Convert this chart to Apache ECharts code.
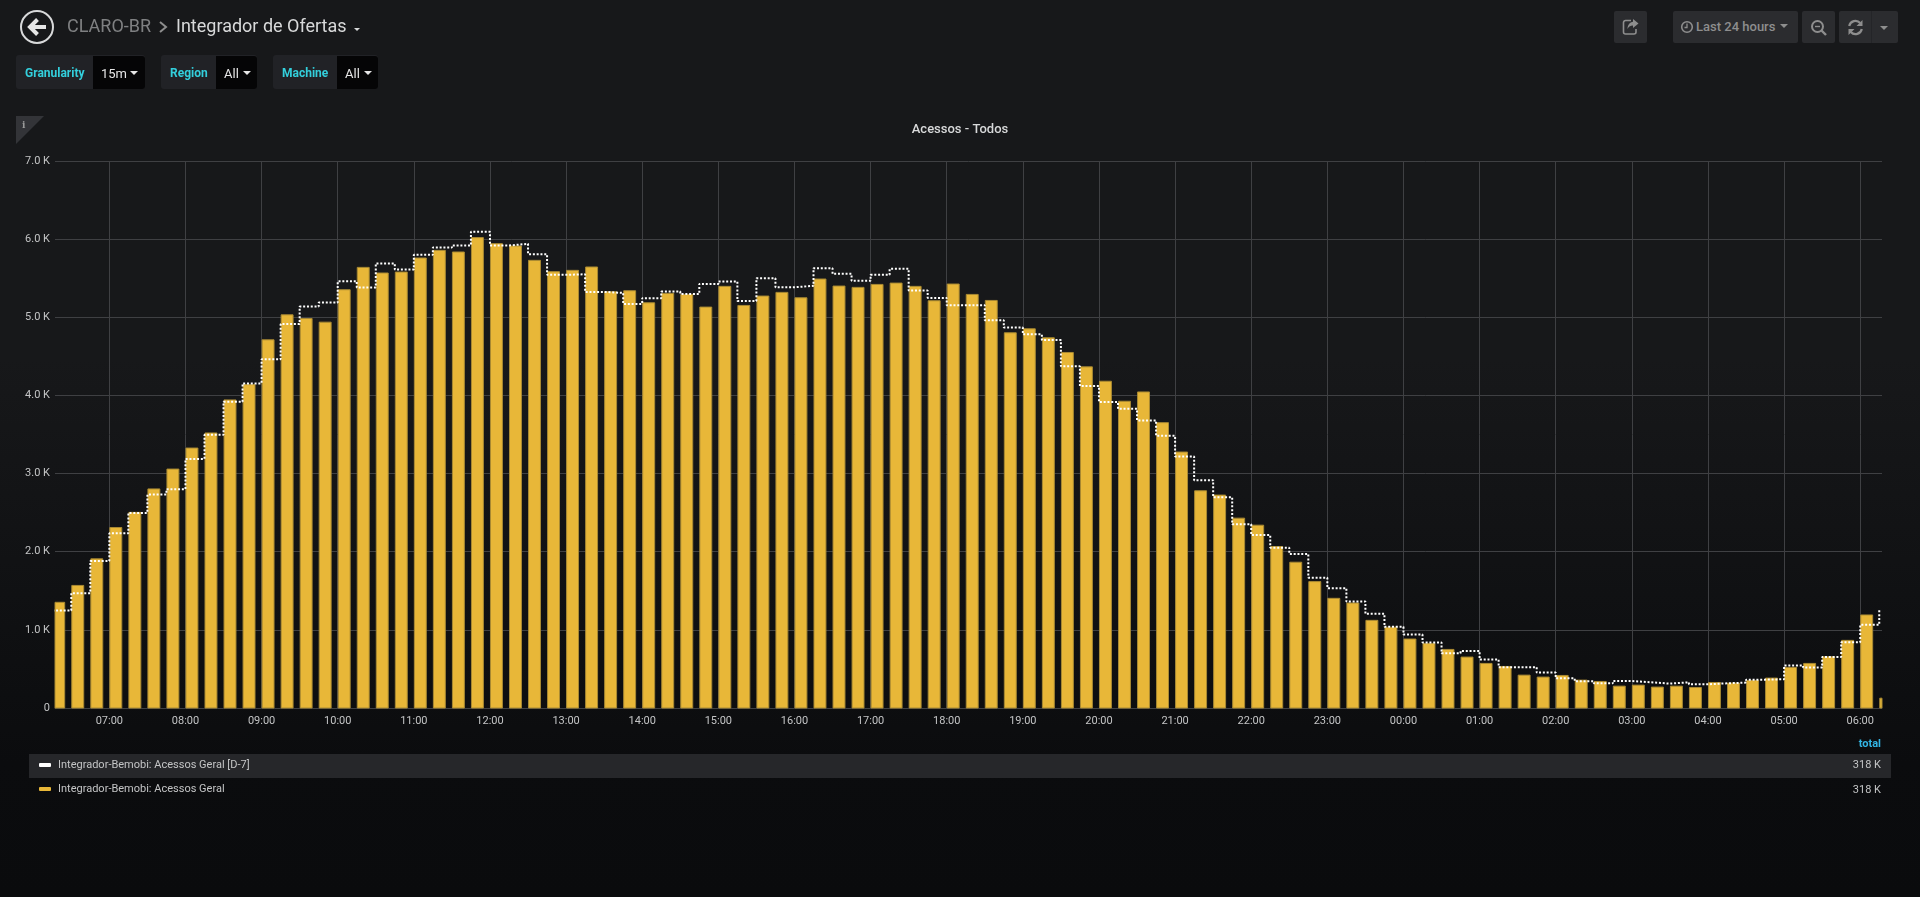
<!DOCTYPE html>
<html>
<head>
<meta charset="utf-8">
<title>Integrador de Ofertas</title>
<script src="https://cdn.jsdelivr.net/npm/echarts@6/dist/echarts.min.js"></script>
<style>
html,body{margin:0;padding:0;width:1920px;height:897px;overflow:hidden;font-family:Roboto,"Noto Sans",sans-serif;
background:linear-gradient(#17181a 0,#17181a 40%,#0b0c0e 85%,#0a0b0d 100%);}
#chart{position:absolute;left:0;top:0;width:1920px;height:897px;}
.a{position:absolute;white-space:nowrap;}
.box{position:absolute;border-radius:3px;}
.tl{color:#33cfdc;font-size:12px;font-weight:700;line-height:14px;}
.tv{color:#e6e6e6;font-size:13px;line-height:16px;}
.car{position:absolute;width:0;height:0;border-left:4.5px solid transparent;border-right:4.5px solid transparent;border-top:4.5px solid #e6e6e6;}
.btn{position:absolute;background:#2b2c2f;top:11px;height:32px;border-radius:2px;}
</style>
</head>
<body>
<div id="chart"></div>

<!-- dashboard header -->
<svg class="a" style="left:19px;top:9px" width="36" height="36" viewBox="0 0 36 36">
  <circle cx="18" cy="18" r="16" fill="none" stroke="#d8d9da" stroke-width="2"/>
  <path d="M18.5 10.5 L11 18 L18.5 25.5 M11.5 18 H27" fill="none" stroke="#e6e6e6" stroke-width="4"/>
</svg>
<div class="a" style="left:67px;top:15px;font-size:18px;line-height:22px;color:#7f8082">CLARO-BR</div>
<svg class="a" style="left:158px;top:20px" width="10" height="14" viewBox="0 0 10 14"><path d="M2 2 L8 7 L2 12" fill="none" stroke="#8e8e8e" stroke-width="2"/></svg>
<div class="a" style="left:176px;top:15px;font-size:18px;line-height:22px;color:#d8d9da">Integrador de Ofertas</div>
<div class="car" style="left:354px;top:28px;border-top-color:#d8d9da;border-left-width:3.5px;border-right-width:3.5px;border-top-width:3.5px"></div>

<div class="box" style="left:16px;top:55px;width:129px;height:34px;background:#212226"></div>
<div class="box" style="left:93px;top:56px;width:52px;height:33px;background:#050506;border-radius:0 3px 3px 0"></div>
<div class="a tl" style="left:25px;top:66px">Granularity</div>
<div class="a tv" style="left:101px;top:66px">15m</div>
<div class="car" style="left:130px;top:71px"></div>

<div class="box" style="left:161px;top:55px;width:96px;height:34px;background:#212226"></div>
<div class="box" style="left:216px;top:56px;width:41px;height:33px;background:#050506;border-radius:0 3px 3px 0"></div>
<div class="a tl" style="left:170px;top:66px">Region</div>
<div class="a tv" style="left:224px;top:66px">All</div>
<div class="car" style="left:243px;top:71px"></div>

<div class="box" style="left:273px;top:55px;width:105px;height:34px;background:#212226"></div>
<div class="box" style="left:337px;top:56px;width:41px;height:33px;background:#050506;border-radius:0 3px 3px 0"></div>
<div class="a tl" style="left:282px;top:66px">Machine</div>
<div class="a tv" style="left:345px;top:66px">All</div>
<div class="car" style="left:364px;top:71px"></div>

<div class="btn" style="left:1614px;width:33px"></div>
<svg class="a" style="left:1622px;top:18px" width="18" height="18" viewBox="0 0 18 18">
  <path d="M9 2.5 H3.5 A2 2 0 0 0 1.5 4.5 V14 A2 2 0 0 0 3.5 16 H12 A2 2 0 0 0 14 14 V11" fill="none" stroke="#8e8e8e" stroke-width="1.6"/>
  <path d="M11 1 L16.5 5.5 L11 10 V7.5 C8 7.5 6.5 9 5.5 11 C5.5 7 8 4 11 3.8 Z" fill="#8e8e8e"/>
</svg>
<div class="btn" style="left:1673px;width:125px"></div>
<svg class="a" style="left:1680px;top:20px" width="14" height="14" viewBox="0 0 14 14"><circle cx="7" cy="7" r="5.3" fill="none" stroke="#8e8e8e" stroke-width="1.6"/><path d="M7 3.5 V7.5 H4.5" fill="none" stroke="#8e8e8e" stroke-width="1.3"/></svg>
<div class="a" style="left:1696px;top:19px;font-size:13px;line-height:16px;font-weight:500;color:#8e8e8e">Last 24 hours</div>
<div class="car" style="left:1780px;top:24px;border-top-color:#8e8e8e"></div>
<div class="btn" style="left:1802px;width:33px"></div>
<svg class="a" style="left:1810px;top:19px" width="18" height="18" viewBox="0 0 18 18"><circle cx="7.5" cy="7.5" r="5.5" fill="none" stroke="#8e8e8e" stroke-width="2"/><path d="M11.5 11.5 L16 16" stroke="#8e8e8e" stroke-width="2.4"/><path d="M5 7.5 H10" stroke="#8e8e8e" stroke-width="1.4"/></svg>
<div class="btn" style="left:1839px;width:59px"></div>
<div class="a" style="left:1871px;top:11px;width:1px;height:32px;background:#242528"></div>
<svg class="a" style="left:1847px;top:19px" width="17" height="17" viewBox="0 0 17 17">
  <path d="M2.2 7 A6.4 6.4 0 0 1 13.2 4 M14.8 10 A6.4 6.4 0 0 1 3.8 13" fill="none" stroke="#8e8e8e" stroke-width="2.2"/>
  <path d="M15.5 1 V7 H9.5 Z M1.5 16 V10 H7.5 Z" fill="#8e8e8e"/>
</svg>
<div class="car" style="left:1880px;top:26px;border-top-color:#8e8e8e"></div>

<!-- panel info corner -->
<svg class="a" style="left:16px;top:116px" width="28" height="28" viewBox="0 0 28 28"><path d="M0 0 H28 L0 28 Z" fill="#333438"/></svg>
<div class="a" style="left:22px;top:118px;font-family:'DejaVu Serif',serif;font-weight:bold;font-size:9px;line-height:14px;color:#9a9a9a">i</div>

<script>
var accessSeriesName = 'Integrador-Bemobi: Acessos Geral';
var previousSeriesName = 'Integrador-Bemobi: Acessos Geral [D-7]';
var totalHeader = 'total';
var totals = ['318 K', '318 K'];

// Accesses per 15 minutes, first bucket at 06:15
var accessValues = [
  1359,1575,1915,2316,2510,2810,3064,3333,3526,3949,4145,4718,5038,4991,4944,5359,
  5645,5573,5585,5765,5863,5842,6026,5949,5919,5735,5590,5607,5650,5333,5346,5192,
  5312,5299,5137,5402,5158,5278,5325,5256,5496,5406,5389,5427,5444,5402,5218,5432,
  5299,5222,4808,4859,4744,4556,4372,4188,3932,4051,3658,3282,2786,2731,2436,2346,
  2073,1872,1624,1410,1350,1128,1040,889,833,756,658,577,538,427,402,423,
  363,346,286,299,274,286,269,333,325,359,389,526,577,662,872,1197,132
];
// Same buckets seven days earlier
var previousValues = [
  1248,1470,1880,2235,2496,2733,2799,3188,3496,3919,4154,4462,4915,5137,5188,5462,
  5380,5688,5611,5799,5893,5919,6094,5919,5940,5808,5543,5551,5325,5312,5171,5244,
  5329,5299,5427,5457,5209,5500,5385,5402,5628,5556,5466,5543,5620,5342,5248,5154,
  5154,4962,4868,4782,4709,4372,4120,3915,3829,3679,3483,3218,2915,2697,2350,2214,
  2051,1970,1667,1534,1363,1205,1040,940,838,701,731,620,521,521,453,380,
  342,316,346,329,312,329,303,316,325,363,368,543,517,654,842,1064,1269
];

var BUCKET_MS = 15 * 60000;
var firstBucket = new Date(2019, 0, 15, 6, 15).getTime();
var axisStart = new Date(2019, 0, 15, 6, 17, 10).getTime();
var axisEnd = new Date(2019, 0, 16, 6, 17, 10).getTime();
var BAR_SHARE = 0.68;

function toPoints(list) {
  return list.map(function (v, i) { return [firstBucket + i * BUCKET_MS, v]; });
}
function pad(n) { return (n < 10 ? '0' : '') + n; }

var GRID = '#3f4043', LABEL = '#c4c5c6', BAR = '#E8B738', BAR_EDGE = '#a98a33';
var FONT = 'Roboto';

var chart = echarts.init(document.getElementById('chart'), null, { renderer: 'canvas' });
chart.setOption({
  animation: false,
  backgroundColor: 'transparent',
  title: {
    text: 'Acessos - Todos', left: 'center', top: 118,
    textStyle: { color: '#d8d9da', fontFamily: FONT, fontSize: 13, fontWeight: 500, lineHeight: 14 }
  },
  grid: { left: 55, right: 38, top: 161, height: 547, containLabel: false },
  legend: {
    orient: 'vertical', left: 39, top: 758, padding: 0, itemGap: 10, itemWidth: 12, itemHeight: 4,
    selectedMode: false,
    textStyle: { color: '#c4c5c6', fontFamily: FONT, fontSize: 11, lineHeight: 14, padding: [0, 0, 0, 2] },
    data: [
      { name: previousSeriesName, icon: 'roundRect', itemStyle: { color: '#ffffff' } },
      { name: accessSeriesName, icon: 'roundRect', itemStyle: { color: BAR } }
    ]
  },
  xAxis: {
    type: 'time', min: axisStart, max: axisEnd,
    minInterval: 3600000, maxInterval: 3600000, splitNumber: 24,
    axisLine: { show: true, lineStyle: { color: GRID, width: 1 } },
    axisTick: { show: false },
    axisLabel: {
      color: LABEL, fontFamily: FONT, fontSize: 11, margin: 8, hideOverlap: false,
      showMinLabel: false, showMaxLabel: false,
      formatter: function (v) {
        var d = new Date(v);
        return d.getMinutes() === 0 ? pad(d.getHours()) + ':00' : '';
      }
    },
    splitLine: { show: true, showMinLine: false, showMaxLine: false, lineStyle: { color: GRID, width: 1 } }
  },
  yAxis: {
    type: 'value', min: 0, max: 7000, interval: 1000,
    axisLine: { show: false }, axisTick: { show: false },
    axisLabel: {
      color: LABEL, fontFamily: FONT, fontSize: 11, margin: 5,
      formatter: function (v) { return v === 0 ? '0' : (v / 1000).toFixed(1) + ' K'; }
    },
    splitLine: { show: true, lineStyle: { color: GRID, width: 1 } }
  },
  series: [
    {
      name: accessSeriesName, type: 'custom', z: 2,
      itemStyle: { color: BAR },
      encode: { x: 0, y: 1 },
      data: toPoints(accessValues),
      renderItem: function (params, api) {
        var top = api.coord([api.value(0), api.value(1)]);
        var base = api.coord([api.value(0), 0]);
        var w = api.size([BUCKET_MS * BAR_SHARE, 0])[0];
        var cs = params.coordSys;
        var rect = echarts.graphic.clipRectByRect(
          { x: top[0] + 0.5, y: top[1] + 0.5, width: w - 1, height: base[1] - top[1] - 0.5 },
          { x: cs.x, y: cs.y, width: cs.width, height: cs.height }
        );
        return rect && { type: 'rect', shape: rect, style: { fill: BAR, stroke: BAR_EDGE, lineWidth: 1 } };
      }
    },
    {
      name: previousSeriesName, type: 'line', z: 3, step: 'end', symbol: 'none', clip: true,
      itemStyle: { color: '#ffffff' },
      lineStyle: { color: '#ffffff', width: 2, type: [2, 1.8], cap: 'butt' },
      data: toPoints(previousValues)
    }
  ],
  graphic: [
    { type: 'rect', z: -1, shape: { x: 29, y: 754, width: 1862, height: 24 }, style: { fill: '#26272a' }, silent: true },
    { type: 'text', x: 1881, y: 744, style: { text: totalHeader, fill: '#33b5e5', font: '700 11px Roboto', textAlign: 'right', textVerticalAlign: 'middle' } },
    { type: 'text', x: 1881, y: 765, style: { text: totals[0], fill: '#c4c5c6', font: '11px Roboto', textAlign: 'right', textVerticalAlign: 'middle' } },
    { type: 'text', x: 1881, y: 790, style: { text: totals[1], fill: '#c4c5c6', font: '11px Roboto', textAlign: 'right', textVerticalAlign: 'middle' } }
  ]
});
</script>
</body>
</html>
